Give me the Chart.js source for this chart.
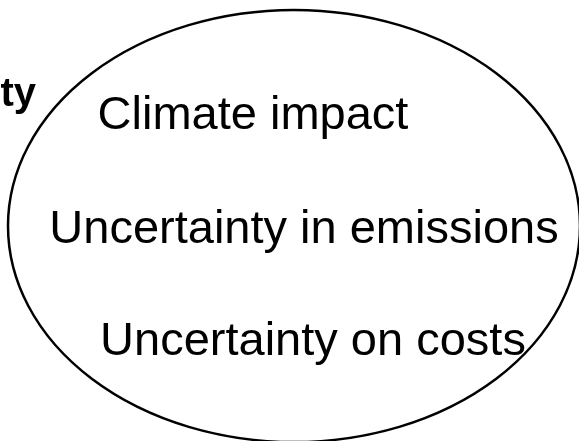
<!DOCTYPE html>
<html>
<head>
<meta charset="utf-8">
<script src="https://cdn.jsdelivr.net/npm/chart.js@4"></script>
<style>
  html, body { margin: 0; padding: 0; background: #fff; }
  #wrap { width: 579px; height: 441px; }
</style>
</head>
<body>
<div id="wrap"><canvas id="diagram" width="579" height="441"></canvas></div>
<script>
// items written inside the ellipse, with their anchor (x = centre, y = baseline)
const itemLabels = ['Climate impact', 'Uncertainty in emissions', 'Uncertainty on costs'];
const itemX = [253, 304, 313];
const itemY = [129, 243, 355];

// the visible end of the heading that is cut off at the left edge
const headingText = ['ty'];
const headingX = [36];
const headingY = [106];

// ellipse: centre and radii in axis units
const ellipseCentre = [294, 226];
const ellipseRadius = [286, 216];

const ellipsePlugin = {
    id: 'ellipse',
    beforeDatasetsDraw(chart) {
        const c = chart.ctx;
        const xs = chart.scales.x, ys = chart.scales.y;
        const cx = xs.getPixelForValue(ellipseCentre[0]);
        const cy = ys.getPixelForValue(ellipseCentre[1]);
        const rx = Math.abs(xs.getPixelForValue(ellipseCentre[0] + ellipseRadius[0]) - cx);
        const ry = Math.abs(ys.getPixelForValue(ellipseCentre[1] + ellipseRadius[1]) - cy);
        c.save();
        c.beginPath();
        c.ellipse(cx, cy, rx, ry, 0, 0, Math.PI * 2);
        c.lineWidth = 2.5;
        c.strokeStyle = '#000';
        c.stroke();
        c.restore();
    }
};

const textPlugin = {
    id: 'pointText',
    afterDatasetsDraw(chart) {
        const c = chart.ctx;
        chart.data.datasets.forEach((ds, i) => {
            const meta = chart.getDatasetMeta(i);
            meta.data.forEach((pt, j) => {
                c.save();
                c.fillStyle = '#000';
                c.font = ds.textFont;
                c.textAlign = ds.textAlign;
                c.textBaseline = 'alphabetic';
                c.fillText(ds.texts[j], pt.x, pt.y);
                c.restore();
            });
        });
    }
};

new Chart(document.getElementById('diagram'), {
    type: 'scatter',
    data: {
        datasets: [{
            label: 'items',
            data: itemX.map((x, i) => ({ x: x, y: itemY[i] })),
            texts: itemLabels,
            textFont: '47px "Liberation Sans", Arial, sans-serif',
            textAlign: 'center',
            pointRadius: 0
        }, {
            label: 'heading',
            data: headingX.map((x, i) => ({ x: x, y: headingY[i] })),
            texts: headingText,
            textFont: 'bold 40px "Liberation Sans", Arial, sans-serif',
            textAlign: 'right',
            pointRadius: 0
        }]
    },
    options: {
        responsive: false,
        animation: false,
        layout: { padding: 0 },
        plugins: {
            legend: { display: false },
            tooltip: { enabled: false }
        },
        scales: {
            x: { type: 'linear', min: 0, max: 579, display: false },
            y: { type: 'linear', min: 0, max: 441, reverse: true, display: false }
        }
    },
    plugins: [ellipsePlugin, textPlugin]
});
</script>
</body>
</html>
